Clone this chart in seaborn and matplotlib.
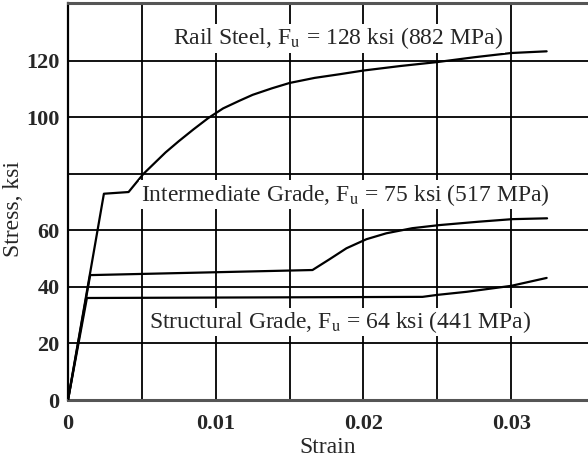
import matplotlib
matplotlib.use("Agg")
import matplotlib.pyplot as plt
import seaborn as sns
import pandas as pd

# data
rail_strain = [0, 0.00243, 0.0041, 0.0051, 0.0066, 0.0075, 0.0085, 0.0095, 0.0105, 0.0116, 0.0125,
               0.0138, 0.015, 0.0167, 0.0184, 0.02, 0.0225, 0.025, 0.0275, 0.03, 0.0324]
rail_stress = [0, 73, 73.6, 80, 87.6, 91.6, 95.8, 99.8, 103.2, 105.9, 108,
               110.3, 112.2, 114, 115.3, 116.6, 118.2, 119.6, 121.3, 122.8, 123.4]
inter_strain = [0, 0.0015, 0.01655, 0.0177, 0.01885, 0.0202, 0.02155, 0.0233, 0.02514, 0.0278, 0.03007, 0.03243]
inter_stress = [0, 44.2, 46, 49.8, 53.7, 56.9, 59, 60.8, 61.9, 63.1, 64, 64.3]
struct_strain = [0, 0.00128, 0.024, 0.025, 0.027, 0.030, 0.0324]
struct_stress = [0, 36.1, 36.5, 37.2, 38.3, 40.4, 43.2]
series_names = ["Rail Steel", "Intermediate Grade", "Structural Grade"]
labels = [r"Rail Steel, F$_\mathrm{u}$ = 128 ksi (882 MPa)",
          r"Intermediate Grade, F$_\mathrm{u}$ = 75 ksi (517 MPa)",
          r"Structural Grade, F$_\mathrm{u}$ = 64 ksi (441 MPa)"]
label_x = [0.0183, 0.01875, 0.0184]
label_y = [128, 72.6, 27.6]
xtick_vals = [0, 0.005, 0.01, 0.015, 0.02, 0.025, 0.03]
xtick_labels = ["0", "", "0.01", "", "0.02", "", "0.03"]
ytick_vals = [0, 20, 40, 60, 80, 100, 120]
ytick_labels = ["0", "20", "40", "60", "", "100", "120"]

frames = []
for name, xs, ys in zip(series_names,
                        [rail_strain, inter_strain, struct_strain],
                        [rail_stress, inter_stress, struct_stress]):
    frames.append(pd.DataFrame({"Strain": xs, "Stress": ys, "Series": name}))
df = pd.concat(frames, ignore_index=True)

sns.set_style("white")
plt.rcParams["font.family"] = ["Liberation Serif", "DejaVu Serif"]
plt.rcParams["mathtext.fontset"] = "stix"

fig = plt.figure(figsize=(5.88, 4.57), dpi=100)
ax = fig.add_axes([68/588, 57/457, 1 - 68/588, 397/457])

sns.lineplot(data=df, x="Strain", y="Stress", hue="Series", sort=False,
             palette=["black"] * 3, linewidth=1.6, legend=False, ax=ax, zorder=3)

ax.set_xlim(0, 0.0352)
ax.set_ylim(0, 140.5)
ax.set_xticks(xtick_vals)
ax.set_xticklabels(xtick_labels, fontsize=16, fontweight="bold")
ax.set_yticks(ytick_vals)
ax.set_yticklabels(ytick_labels, fontsize=16, fontweight="bold")
ax.tick_params(axis="x", length=0, pad=10)
ax.tick_params(axis="y", length=0, pad=6)
ax.grid(True, color="black", linewidth=1.3)
ax.set_axisbelow(True)
ax.spines["left"].set_color("black")
ax.spines["left"].set_linewidth(1.6)
for s in ["top", "bottom"]:
    ax.spines[s].set_color("#555555")
    ax.spines[s].set_linewidth(2.2)
ax.spines["right"].set_visible(False)

ax.set_xlabel("Strain", fontsize=17, labelpad=2)
ax.set_ylabel("Stress, ksi", fontsize=17)
ax.yaxis.set_label_coords(-0.085, 0.48)

for txt, tx, ty in zip(labels, label_x, label_y):
    ax.text(tx, ty, txt, fontsize=17, ha="center", va="center", zorder=4,
            bbox=dict(facecolor="white", edgecolor="none", pad=1.0))

fig.savefig("out.png", dpi=100)
